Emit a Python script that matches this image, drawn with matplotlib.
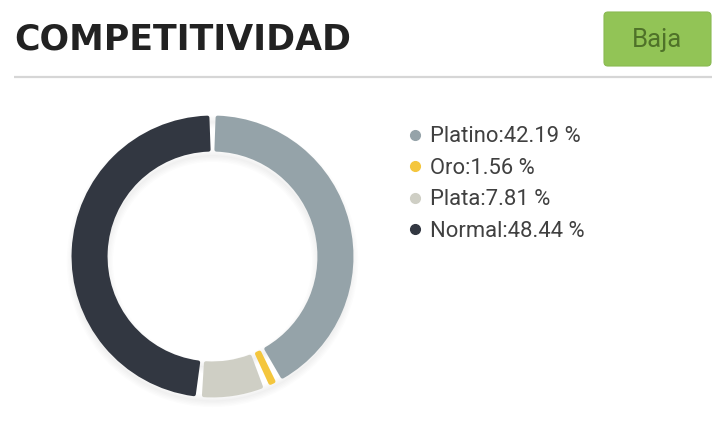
import matplotlib

matplotlib.use("Agg")
import matplotlib.pyplot as plt
from matplotlib.patches import FancyBboxPatch, Wedge

# ---------------------------------------------------------------------------
# data
# ---------------------------------------------------------------------------
title = "COMPETITIVIDAD"
level = "Baja"
labels = ["Platino", "Oro", "Plata", "Normal"]
shares = [42.19, 1.56, 7.81, 48.44]
colors = ["#95a3a9", "#f4c63d", "#cfcfc5", "#323741"]

W, H = 725, 437
fig = plt.figure(figsize=(W / 100, H / 100), dpi=100)

# header layer, in pixel units
bg = fig.add_axes([0, 0, 1, 1])
bg.set_xlim(0, W)
bg.set_ylim(H, 0)
bg.axis("off")

bg.text(14, 50, title, fontsize=25, color="#222222", fontweight="bold",
        family=["DejaVu Sans"], va="baseline", ha="left")
bg.plot([14, 712], [77, 77], color="#d6d6d6", lw=1.6, solid_capstyle="butt")

btn = FancyBboxPatch((604, 12), 107, 54, boxstyle="round,pad=0,rounding_size=4",
                     fc="#92c456", ec="#8aba52", lw=0.8)
bg.add_patch(btn)
bg.text(657.5, 40, level, fontsize=18.5, color="#4f7229", family=["Roboto"],
        ha="center", va="center")

# legend
for i, (lab, val, col) in enumerate(zip(labels, shares, colors)):
    y = 134.5 + i * 31.5
    bg.plot(415, y, "o", ms=7, color=col, mec=col)
    bg.text(430, y + 7.8, f"{lab}:{val:.2f} %", fontsize=15.8,
            color="#404040", family=["Roboto"], va="baseline", ha="left")

# ---------------------------------------------------------------------------
# donut
# ---------------------------------------------------------------------------
cx, cy, half = 212.5, 256.5, 155
ax = fig.add_axes([(cx - half) / W, (H - cy - half) / H, 2 * half / W, 2 * half / H])
ax.set_xlim(-1.1, 1.1)
ax.set_ylim(-1.1, 1.1)
ax.set_aspect("equal")
ax.axis("off")

# soft shadow below the ring
for k in range(5):
    ax.add_patch(Wedge((0, -0.035), 0.99, 0, 360, width=0.24,
                       fc="none", ec="#000000", lw=1 + k * 2.0, alpha=0.012,
                       zorder=0))

outer_r = 0.986
ring_w = 0.227
gap_deg = 2.1
wedges, _ = ax.pie(shares, colors=colors, startangle=90, counterclock=False,
                   radius=outer_r,
                   wedgeprops=dict(width=ring_w, lw=2.9, joinstyle="round"))
for w in wedges:
    w.set_edgecolor(w.get_facecolor())
    w.set_theta1(w.theta1 + gap_deg)
    w.set_theta2(w.theta2 - gap_deg)
    w.set_zorder(2)
ax.set_xlim(-1.1, 1.1)
ax.set_ylim(-1.1, 1.1)

fig.savefig("out.png", dpi=100, facecolor="white")
